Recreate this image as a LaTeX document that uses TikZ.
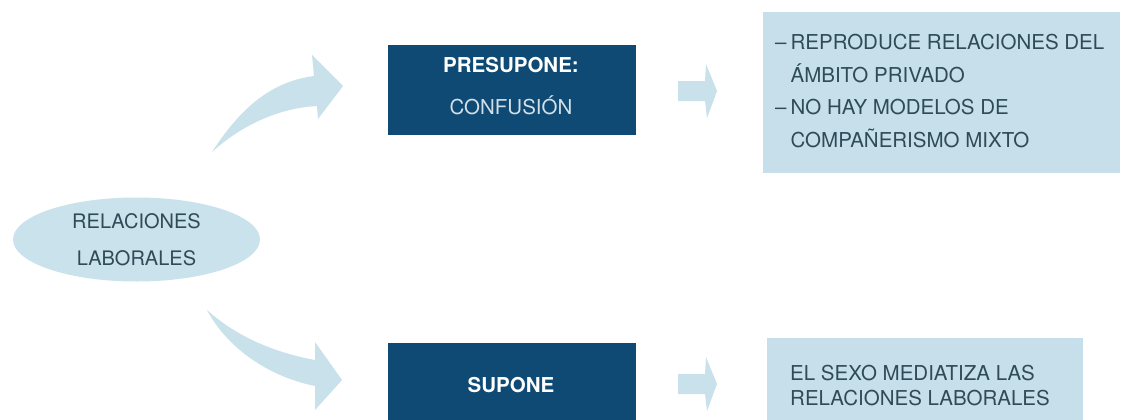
\documentclass[tikz,border=0pt]{standalone}
\usepackage{fontspec}
\setmainfont{TeX Gyre Heros}
\usetikzlibrary{shapes.geometric}
\definecolor{navy}{HTML}{0E4A73}
\definecolor{lightbox}{HTML}{C6DFEA}
\definecolor{ellfill}{HTML}{C9E2EC}
\definecolor{arrowfill}{HTML}{C8E1EB}
\definecolor{txt}{HTML}{304B58}
\definecolor{subtxt}{HTML}{D3E0E8}
\tikzset{
  darkbox/.style={fill=navy, draw=none, minimum width=248pt, inner sep=0pt, align=center},
  lightrect/.style={fill=lightbox, draw=none},
  boxtext/.style={text=txt, inner sep=0pt, font=\fontsize{20.5}{25}\selectfont},
  bigarrow/.style={fill=arrowfill, draw=none},
}
\begin{document}
\begin{tikzpicture}[x=1pt,y=-1pt]
\useasboundingbox (0,0) rectangle (1132,420);
\fill[white] (0,0) rectangle (1132,420);
\clip (0,0) rectangle (1132,420);

% central ellipse
\node[ellipse, fill=ellfill, minimum width=247pt, minimum height=84pt, inner sep=0pt,
      align=center, text=txt, font=\fontsize{20}{37}\selectfont] (rel) at (136.5,239.5)
      {RELACIONES\\LABORALES};

% curved arrows
\fill[bigarrow] (212,152) .. controls (238,112) and (268,82) .. (314,76)
   -- (312,55) -- (343,86) -- (318,119) -- (317,106)
   .. controls (280,108) and (243,124) .. (212,152) -- cycle;
\fill[bigarrow] (207,310) .. controls (236,336) and (272,352) .. (315,360)
   -- (315,342) -- (342,380) -- (315,410) -- (315,386)
   .. controls (266,376) and (226,346) .. (207,310) -- cycle;

% dark boxes
\node[darkbox, minimum height=90pt] (pre) at (512,90) {};
\node[anchor=base, inner sep=0pt, text=white, font=\fontsize{20.5}{25}\bfseries\selectfont] (preA) at (511,72) {PRESUPONE:};
\node[anchor=base, inner sep=0pt, text=subtxt, font=\fontsize{20.5}{25}\selectfont] (preB) at (511,114) {CONFUSIÓN};

\node[darkbox, minimum height=90pt, anchor=north] (sup) at (512,343) {};
\node[anchor=base, inner sep=0pt, text=white, font=\fontsize{20.5}{25}\bfseries\selectfont] (supA) at (511,392) {SUPONE};

% small arrows
\fill[bigarrow, shift={(0,91)}] (678,-10) -- (705,-10) -- (706,-27) -- (717,0) -- (707,27) -- (705,10) -- (678,10) -- cycle;
\fill[bigarrow, shift={(0,384)}] (678,-10) -- (705,-10) -- (706,-27) -- (717,0) -- (707,27) -- (705,10) -- (678,10) -- cycle;

% light boxes
\fill[lightrect] (763,12) rectangle (1120,173);
\node[boxtext, anchor=base west] (res1) at (775,50)
  {\fontsize{20.5}{32.5}\selectfont\begin{tabular}[t]{@{}l@{\hspace{4pt}}l@{}}
   – & REPRODUCE RELACIONES DEL\\
     & ÁMBITO PRIVADO\\
   – & NO HAY MODELOS DE\\
     & COMPAÑERISMO MIXTO
   \end{tabular}};

\fill[lightrect] (767,338) rectangle (1083,430);
\node[boxtext, anchor=base west] (res2) at (790,380)
  {\begin{tabular}[t]{@{}l@{}}
   EL SEXO MEDIATIZA LAS\\
   RELACIONES LABORALES
   \end{tabular}};
\end{tikzpicture}
\end{document}
